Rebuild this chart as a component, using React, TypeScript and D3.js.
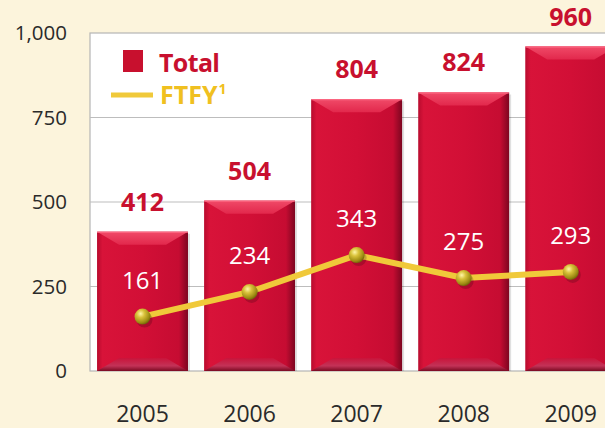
import React from "react";
import * as d3 from "d3";

const years = ["2005", "2006", "2007", "2008", "2009"];
const totals = [412, 504, 804, 824, 960];
const ftfy = [161, 234, 343, 275, 293];
const yTicks = [0, 250, 500, 750, 1000];

const W = 605;
const H = 428;
const plotLeft = 90;
const plotTop = 33;
const plotBottom = 371;
const plotRight = 640;

export default function App() {
  const y = d3.scaleLinear().domain([0, 1000]).range([plotBottom, plotTop]);
  const step = 106.25;
  const x = d3
    .scaleBand<string>()
    .domain(years)
    .range([plotLeft + 1, plotLeft + 1 + step * 5])
    .paddingInner(16 / step)
    .paddingOuter(6 / step);
  const bw = x.bandwidth();
  const fmt = d3.format(",");
  const line = d3
    .line<number>()
    .x((_, i) => (x(years[i]) as number) + bw / 2)
    .y((d) => y(d));

  const font = "'Open Sans', 'DejaVu Sans', sans-serif";

  return (
    <svg width={W} height={H} style={{ position: "absolute", left: 0, top: 0 }}>
      <defs>
        <linearGradient id="barBody" x1="0" x2="1" y1="0" y2="0">
          <stop offset="0" stopColor="#b80b2e" />
          <stop offset="0.06" stopColor="#d81339" />
          <stop offset="0.5" stopColor="#d20f36" />
          <stop offset="0.9" stopColor="#c60c32" />
          <stop offset="1" stopColor="#7d0620" />
        </linearGradient>
        <linearGradient id="bevTop" x1="0" x2="0" y1="0" y2="1">
          <stop offset="0" stopColor="#f04a68" />
          <stop offset="1" stopColor="#e2284c" />
        </linearGradient>
        <linearGradient id="bevBot" x1="0" x2="0" y1="0" y2="1">
          <stop offset="0" stopColor="#c9143a" />
          <stop offset="0.6" stopColor="#c33257" />
          <stop offset="1" stopColor="#7a0a22" />
        </linearGradient>
        <radialGradient id="ball" cx="0.38" cy="0.32" r="0.7">
          <stop offset="0" stopColor="#fff6a8" />
          <stop offset="0.35" stopColor="#d9c23a" />
          <stop offset="0.8" stopColor="#9c8a12" />
          <stop offset="1" stopColor="#6f6208" />
        </radialGradient>
      </defs>
      <rect x={0} y={0} width={W} height={H} fill="#fcf4dc" />
      <rect
        x={plotLeft}
        y={plotTop}
        width={plotRight - plotLeft}
        height={plotBottom - plotTop}
        fill="#ffffff"
        stroke="#b5b5b5"
        strokeWidth={1.2}
      />
      {yTicks.slice(1, -1).map((t) => (
        <line
          key={t}
          x1={plotLeft}
          x2={plotRight}
          y1={y(t)}
          y2={y(t)}
          stroke="#bdbdbd"
          strokeWidth={1.2}
        />
      ))}
      {yTicks.map((t) => (
        <text
          key={t}
          x={67}
          y={y(t) + 7}
          textAnchor="end"
          fontFamily={font}
          fontSize={20.5}
          fill="#2a2a2a"
        >
          {fmt(t)}
        </text>
      ))}
      {years.map((yr, i) => {
        const x0 = x(yr) as number;
        const x1 = x0 + bw;
        const y0 = y(totals[i]);
        const y1 = plotBottom;
        const tb = 13;
        const bb = 13;
        const inset = 22;
        return (
          <g key={yr}>
            <rect x={x0 + 2} y={y0 + 2} width={bw} height={y1 - y0 - 2} fill="#000" opacity={0.12} />
            <rect x={x0} y={y0} width={bw} height={y1 - y0} fill="url(#barBody)" />
            <polygon
              points={`${x0},${y0} ${x1},${y0} ${x1 - inset},${y0 + tb} ${x0 + inset},${y0 + tb}`}
              fill="url(#bevTop)"
            />
            <polygon
              points={`${x0},${y1} ${x1},${y1} ${x1 - inset},${y1 - bb} ${x0 + inset},${y1 - bb}`}
              fill="url(#bevBot)"
            />
            <line x1={x0} x2={x1} y1={y0 + 0.5} y2={y0 + 0.5} stroke="#ff6f88" strokeWidth={1} />
            <text
              x={x0 + bw / 2}
              y={y0 - 21}
              textAnchor="middle"
              fontFamily={font}
              fontWeight="bold"
              fontSize={25}
              fill="#c8102e"
            >
              {totals[i]}
            </text>
            <text
              x={x0 + bw / 2}
              y={y(ftfy[i]) - 28}
              textAnchor="middle"
              fontFamily={font}
              fontSize={24}
              fill="#ffffff"
            >
              {ftfy[i]}
            </text>
            <text
              x={x0 + bw / 2}
              y={422}
              textAnchor="middle"
              fontFamily={font}
              fontSize={23}
              fill="#2a2a2a"
            >
              {yr}
            </text>
          </g>
        );
      })}
      <path
        d={line(ftfy) as string}
        fill="none"
        stroke="#f0c93a"
        strokeWidth={6}
        strokeLinejoin="round"
      />
      {ftfy.map((v, i) => (
        <g key={i}>
          <circle cx={(x(years[i]) as number) + bw / 2 + 2} cy={y(v) + 3} r={8} fill="#000" opacity={0.18} />
          <circle cx={(x(years[i]) as number) + bw / 2} cy={y(v)} r={8} fill="url(#ball)" />
        </g>
      ))}
      <rect x={123} y={50} width={20} height={22} fill="#c8102e" />
      <text x={159} y={72} fontFamily={font} fontWeight="bold" fontSize={25} fill="#c8102e" textLength={61}>
        Total
      </text>
      <line x1={111} x2={153} y1={95} y2={95} stroke="#f0c93a" strokeWidth={5} />
      <text x={160} y={104} fontFamily={font} fontWeight="bold" fontSize={25} fill="#f0c020">
        FTFY
        <tspan dx={1} dy={-10} fontSize={14}>1</tspan>
      </text>
    </svg>
  );
}
